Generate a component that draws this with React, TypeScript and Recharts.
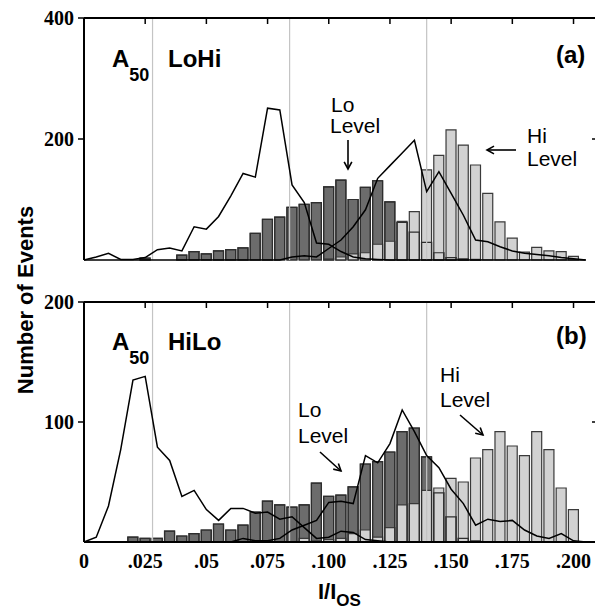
import React from "react";
import { ComposedChart, Bar, Line, XAxis, YAxis, ReferenceLine } from "recharts";

// bin centres (I/Ios), 0.005 wide
const BINS = [
  0, 0.005, 0.01, 0.015, 0.02, 0.025, 0.03, 0.035, 0.04, 0.045,
  0.05, 0.055, 0.06, 0.065, 0.07, 0.075, 0.08, 0.085, 0.09, 0.095,
  0.1, 0.105, 0.11, 0.115, 0.12, 0.125, 0.13, 0.135, 0.14, 0.145,
  0.15, 0.155, 0.16, 0.165, 0.17, 0.175, 0.18, 0.185, 0.19, 0.195,
  0.2, 0.205,
];

// (a) A50 LoHi
const LOHI_LO = [0, 0, 0, 0, 0, 3, 0, 0, 8, 14, 10, 15, 17, 20, 44, 67, 71, 87, 92, 95, 121, 132, 100, 120, 131, 96, 62, 46, 29, 12, 4, 2, 1, 0, 0, 0, 0, 0, 0, 0, 0, 0];
const LOHI_HI = [0, 0, 0, 0, 0, 0, 0, 0, 0, 0, 0, 0, 0, 0, 0, 0, 0, 0, 0, 0, 2, 5, 10, 12, 26, 31, 64, 80, 149, 173, 215, 190, 157, 110, 63, 36, 13, 21, 15, 14, 6, 0];
const LOHI_TRACE1 = [0, 5, 11, 1, 1, 4, 17, 20, 15, 55, 51, 72, 106, 143, 137, 251, 248, 124, 95, 28, 26, 14, 5, 2, 1, 0, 0, 0, 0, 0, 0, 0, 0, 0, 0, 0, 0, 0, 0, 0, 0, 0];
const LOHI_TRACE2 = [0, 0, 0, 0, 0, 0, 0, 0, 0, 0, 0, 0, 0, 0, 0, 0, 0, 5, 7, 5, 19, 33, 55, 83, 135, 156, 177, 198, 113, 146, 110, 74, 33, 30, 22, 15, 11, 9, 7, 4, 2, 0];

// (b) A50 HiLo
const HILO_LO = [0, 0, 0, 0, 4, 3, 3, 9, 5, 7, 10, 15, 10, 14, 25, 34, 31, 29, 31, 49, 38, 39, 46, 65, 67, 75, 92, 95, 71, 41, 21, 3, 1, 0, 0, 0, 0, 0, 0, 0, 0, 0];
const HILO_HI = [0, 0, 0, 0, 0, 0, 0, 0, 0, 0, 0, 0, 0, 0, 0, 0, 0, 0, 3, 1, 2, 3, 7, 10, 4, 12, 31, 32, 43, 45, 53, 50, 70, 77, 92, 80, 72, 92, 77, 45, 27, 0];
const HILO_TRACE1 = [0, 4, 30, 77, 135, 138, 79, 68, 38, 43, 27, 18, 28, 28, 24, 25, 19, 21, 12, 3, 4, 9, 8, 2, 1, 0, 0, 0, 0, 0, 0, 0, 0, 0, 0, 0, 0, 0, 0, 0, 0, 0];
const HILO_TRACE2 = [0, 0, 0, 0, 0, 0, 0, 0, 0, 0, 0, 0, 0, 3, 1, 1, 3, 10, 14, 18, 33, 34, 32, 72, 66, 82, 110, 92, 72, 62, 44, 32, 14, 19, 17, 18, 10, 5, 3, 7, 1, 0];

const X_TICKS = [0, 0.025, 0.05, 0.075, 0.1, 0.125, 0.15, 0.175, 0.2];
const X_TICK_LABELS = ["0", ".025", ".05", ".075", ".100", ".125", ".150", ".175", ".200"];
const GUIDES = [0.028, 0.084, 0.14];
const X_MAX = 0.21;

// plot frame geometry (px)
const PLOT_LEFT = 84;
const PLOT_RIGHT = 598;
const PANEL_A = { top: 18, h: 242, yMax: 400, yTicks: [200, 400] };
const PANEL_B = { top: 302, h: 240, yMax: 200, yTicks: [100, 200] };

const DARK = "#6c6c6c";
const LIGHT = "#d2d2d2";
const SERIF = "'Liberation Serif', 'Times New Roman', serif";
const SANS = "'Liberation Sans', Arial, sans-serif";
const FRAME = { stroke: "#000", strokeWidth: 2 };
const TICK_LINE = { stroke: "#000", strokeWidth: 1.5 };

function Panel({ lo, hi, t1, t2, yMax, yTicks, showX, height, top, bottom }) {
  const data = BINS.map((x, i) => ({ x, lo: lo[i], hi: hi[i], t1: t1[i], t2: t2[i] }));
  const tickFont = { fontFamily: SERIF, fontWeight: 700, fontSize: 20, fill: "#000" };
  return (
    <ComposedChart width={640} height={height} data={data}
      margin={{ top, right: 640 - PLOT_RIGHT, left: 0, bottom }}>
      <XAxis xAxisId="b" dataKey="x" type="number" domain={[0, X_MAX]} ticks={X_TICKS}
        interval={0} height={showX ? 40 : 0} tickLine={false} tickSize={0} tickMargin={12}
        tick={showX ? tickFont : false}
        tickFormatter={(v) => X_TICK_LABELS[X_TICKS.indexOf(v)] ?? ""}
        axisLine={FRAME} />
      <XAxis xAxisId="h" dataKey="x" type="number" domain={[0, X_MAX]} hide />
      <XAxis xAxisId="o" dataKey="x" type="number" domain={[0, X_MAX]} hide />
      <YAxis width={PLOT_LEFT} domain={[0, yMax]} ticks={yTicks} interval={0} tickSize={6} tickMargin={4}
        tick={tickFont} tickLine={TICK_LINE} axisLine={FRAME} />
      {GUIDES.map((g) => (
        <ReferenceLine key={g} xAxisId="b" x={g} stroke="#c4c4c4" strokeWidth={1.2} />
      ))}
      <ReferenceLine xAxisId="b" y={yMax} stroke="#000" strokeWidth={2} />
      <Bar xAxisId="b" dataKey="lo" barSize={10} fill={DARK} stroke="#2e2e2e" strokeWidth={1.2} isAnimationActive={false} />
      <Bar xAxisId="h" dataKey="hi" barSize={10} fill={LIGHT} stroke="#3a3a3a" strokeWidth={1.2} isAnimationActive={false} />
      <Bar xAxisId="o" dataKey="lo" barSize={10} fill="none" stroke="#2e2e2e" strokeWidth={1.2} isAnimationActive={false} />
      <Line xAxisId="b" dataKey="t1" type="linear" stroke="#000" strokeWidth={1.5} dot={false} isAnimationActive={false} />
      <Line xAxisId="b" dataKey="t2" type="linear" stroke="#000" strokeWidth={1.5} dot={false} isAnimationActive={false} />
    </ComposedChart>
  );
}

// inward tick marks on the top and right edges of a panel frame
function FrameTicks({ panel }) {
  const sx = (v) => PLOT_LEFT + (v / X_MAX) * (PLOT_RIGHT - PLOT_LEFT);
  const sy = (v) => panel.top + (1 - v / panel.yMax) * panel.h;
  return (
    <g stroke="#000" strokeWidth={1.5}>
      {X_TICKS.slice(1).map((t) => (
        <line key={"t" + t} x1={sx(t)} x2={sx(t)} y1={panel.top} y2={panel.top + 6} />
      ))}
      {panel.yTicks.slice(0, -1).map((t) => (
        <line key={"r" + t} x1={PLOT_RIGHT - 6} x2={PLOT_RIGHT} y1={sy(t)} y2={sy(t)} />
      ))}
    </g>
  );
}

function Arrow({ x1, y1, x2, y2 }) {
  const a = Math.atan2(y2 - y1, x2 - x1);
  const h = 8;
  const p1 = [x2 - h * Math.cos(a - 0.5), y2 - h * Math.sin(a - 0.5)];
  const p2 = [x2 - h * Math.cos(a + 0.5), y2 - h * Math.sin(a + 0.5)];
  return (
    <g stroke="#000" strokeWidth={1.6} fill="none">
      <line x1={x1} y1={y1} x2={x2} y2={y2} />
      <polyline points={`${p1[0]},${p1[1]} ${x2},${y2} ${p2[0]},${p2[1]}`} />
    </g>
  );
}

export default function App() {
  return (
    <div style={{ position: "absolute", left: 0, top: 0, width: 595, height: 613, overflow: "hidden", background: "#fff" }}>
      <div style={{ position: "absolute", left: 0, top: 0 }}>
        <Panel lo={LOHI_LO} hi={LOHI_HI} t1={LOHI_TRACE1} t2={LOHI_TRACE2}
          yMax={PANEL_A.yMax} yTicks={PANEL_A.yTicks} showX={false}
          height={265} top={PANEL_A.top} bottom={265 - PANEL_A.top - PANEL_A.h} />
      </div>
      <div style={{ position: "absolute", left: 0, top: 280 }}>
        <Panel lo={HILO_LO} hi={HILO_HI} t1={HILO_TRACE1} t2={HILO_TRACE2}
          yMax={PANEL_B.yMax} yTicks={PANEL_B.yTicks} showX={true}
          height={333} top={PANEL_B.top - 280} bottom={333 - (PANEL_B.top - 280) - PANEL_B.h - 40} />
      </div>
      <svg width={595} height={613} style={{ position: "absolute", left: 0, top: 0, pointerEvents: "none" }}>
        <FrameTicks panel={PANEL_A} />
        <FrameTicks panel={PANEL_B} />

        <text transform="translate(33,300) rotate(-90)" textAnchor="middle"
          style={{ fontFamily: SANS, fontWeight: 700, fontSize: 22 }}>Number of Events</text>
        <text x={318} y={599} style={{ fontFamily: SANS, fontWeight: 700, fontSize: 22 }}>
          I/I<tspan dy={7} fontSize={17}>OS</tspan>
        </text>

        <g style={{ fontFamily: SANS, fontWeight: 700 }}>
          <text x={112} y={67} fontSize={24}>A<tspan dy={14} fontSize={18}>50</tspan></text>
          <text x={168} y={67} fontSize={24}>LoHi</text>
          <text x={556} y={63} fontSize={24}>(a)</text>
          <text x={112} y={350} fontSize={24}>A<tspan dy={14} fontSize={18}>50</tspan></text>
          <text x={168} y={350} fontSize={24}>HiLo</text>
          <text x={556} y={344} fontSize={24}>(b)</text>
        </g>

        <g style={{ fontFamily: SANS, fontSize: 21 }}>
          <text x={331} y={112}>Lo</text>
          <text x={330} y={133}>Level</text>
          <text x={527} y={143}>Hi</text>
          <text x={527} y={166}>Level</text>
          <text x={298} y={417}>Lo</text>
          <text x={298} y={443}>Level</text>
          <text x={440} y={382}>Hi</text>
          <text x={440} y={407}>Level</text>
        </g>
        <Arrow x1={348} y1={140} x2={348} y2={169} />
        <Arrow x1={516} y1={150} x2={487} y2={150} />
        <Arrow x1={320} y1={452} x2={341} y2={471} />
        <Arrow x1={460} y1={415} x2={483} y2={435} />
      </svg>
    </div>
  );
}
